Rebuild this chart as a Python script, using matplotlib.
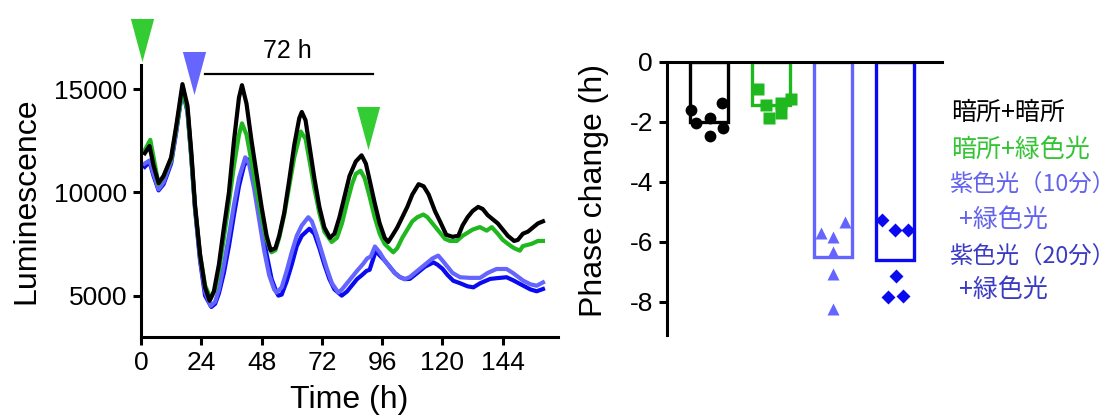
import numpy as np
import matplotlib
matplotlib.use("Agg")
import matplotlib.pyplot as plt

plt.rcParams["font.family"] = ["Liberation Sans", "DejaVu Sans"]
CJK = ["Noto Sans CJK JP", "DejaVu Sans"]

# ---- left panel: luminescence traces ----
t_black = [1.5, 3.4, 5, 7, 9, 12, 14, 16.5, 18.5, 20, 21.5, 23.5, 25.5, 27.3, 29, 31, 33, 35, 37, 39,
           40.2, 42, 44, 46, 48, 50, 51.6, 53.5, 55, 57, 59, 61, 63, 64, 65.5, 67, 69, 71, 73, 75.2,
           77, 79, 81, 83, 85.5, 87.8, 89.5, 91, 93, 95, 97, 98.4, 100, 102, 104, 106, 108, 110.5,
           112.5, 114.5, 117, 119, 121.5, 124, 126.3, 128, 130, 132, 134.2, 136, 138, 140, 142, 144,
           146, 148.5, 150, 152, 154, 156, 158, 160]
v_black = [11900, 12250, 11300, 10450, 10800, 11700, 13200, 15250, 14200, 12000, 9400, 7000, 5400,
           4750, 5200, 6500, 8300, 10000, 12500, 14600, 15200, 14300, 12500, 10900, 9300, 7900, 7200,
           7300, 7900, 9000, 10600, 12300, 13600, 13900, 13500, 12300, 10700, 9300, 8300, 7800, 8000,
           8800, 9800, 10800, 11500, 11800, 11400, 10600, 9500, 8500, 7800, 7600, 7900, 8300, 8800,
           9300, 9900, 10400, 10300, 9900, 9100, 8600, 7950, 7850, 7900, 8400, 8800, 9100, 9300, 9200,
           8900, 8700, 8500, 8200, 7900, 7650, 7700, 8000, 8100, 8300, 8500, 8600]

t_green = [1.5, 3.7, 5, 7, 9, 12, 14, 16.7, 18.5, 20, 21.5, 23.5, 25.5, 27.7, 29.5, 31, 33, 35, 37,
           39, 40.2, 42, 44, 46, 48, 50, 51.9, 53.5, 55, 57, 59, 61, 63.6, 65.5, 67, 69, 71, 73, 75.9,
           78, 80, 82, 84, 85.5, 87.4, 89, 91, 93, 95, 97, 100.4, 102, 104, 106, 108, 110, 112.4, 114,
           116, 119, 121, 123, 125.7, 128, 130.3, 132, 134.9, 137.6, 139.6, 142, 144, 146.9, 148.5,
           150.8, 152, 155.5, 158, 160]
v_green = [12050, 12550, 11700, 10400, 10800, 11600, 13100, 15050, 14000, 11800, 9300, 7000, 5500,
           4850, 5300, 6200, 7800, 9500, 11300, 12800, 13350, 12800, 11500, 10100, 8800, 7700, 7100,
           7200, 7800, 8900, 10300, 11700, 12950, 12600, 11600, 10200, 9000, 8100, 7600, 7800, 8500,
           9500, 10400, 10900, 11050, 10700, 9800, 8800, 8000, 7500, 7100, 7300, 7800, 8200, 8600,
           8800, 8930, 8800, 8500, 8050, 7750, 7650, 7650, 7900, 8070, 8200, 8320, 8150, 8320, 8000,
           7700, 7430, 7300, 7180, 7400, 7510, 7650, 7650]

t_violet10 = [1.5, 3.4, 5, 7, 9, 12, 14, 16.5, 18.5, 20, 21.5, 23.5, 25.5, 27.7, 29.5, 31, 33, 35,
              37, 39, 41.5, 43, 45, 47, 49, 51, 53, 54, 56, 58, 60, 62, 64, 66.6, 68, 70, 72, 74,
              76, 78.5, 80, 82, 84, 86, 88.5, 90, 91.5, 93.1, 95, 97, 99, 101, 103, 105, 107, 110,
              113, 116, 118.3, 120, 122, 124, 127, 131, 135, 138, 141.5, 145.5, 148, 152.2, 155,
              157.5, 160]
v_violet10 = [11400, 11550, 10900, 10150, 10500, 11500, 13000, 15100, 14000, 11800, 9300, 6800,
              5200, 4500, 4700, 5300, 6500, 7900, 9400, 10700, 11700, 11400, 10200, 8700, 7200,
              6000, 5300, 5150, 5400, 6200, 7100, 7900, 8400, 8800, 8600, 7900, 7100, 6300, 5600,
              5150, 5300, 5600, 5900, 6200, 6550, 6800, 6900, 7380, 7100, 6700, 6400, 6100, 5900,
              5800, 5900, 6200, 6500, 6800, 6940, 6700, 6400, 6100, 5890, 5860, 5860, 6100, 6290,
              6290, 6100, 5720, 5550, 5480, 5640]

t_violet20 = [1.5, 3.4, 5, 7, 9, 12, 14, 16.5, 18.5, 20, 21.5, 23.5, 25.5, 28, 29.5, 31, 33, 35, 37,
              39, 41, 42.5, 44, 46, 48, 50, 52, 54, 54.7, 56, 58, 60, 62, 64, 67, 69, 71, 73, 75,
              77, 79.9, 82, 84, 86, 88, 89.8, 91, 93.5, 95, 97, 99, 101, 103, 105, 107, 110, 113,
              116.4, 118, 120, 122, 124.3, 127, 130, 132.3, 135, 139, 142, 145.5, 148, 152.2, 155,
              157.5, 160]
v_violet20 = [11240, 11480, 10800, 10100, 10400, 11400, 12900, 15000, 13900, 11700, 9200, 6700,
              5000, 4450, 4600, 5100, 6100, 7400, 8900, 10300, 11300, 11600, 11300, 10100, 8500,
              7000, 5800, 5150, 5000, 5050, 5700, 6500, 7400, 7900, 8240, 8000, 7300, 6500, 5800,
              5300, 5000, 5200, 5500, 5800, 6000, 6200, 6250, 7180, 6950, 6700, 6400, 6100, 5900,
              5800, 5810, 6100, 6400, 6610, 6500, 6300, 6000, 5720, 5600, 5450, 5400, 5600, 5810,
              5850, 5890, 5750, 5480, 5300, 5210, 5320]

# light-pulse arrowheads (time, height) and the 72 h bar
green_marks_t = [0.5, 90.4]
green_marks_y = [17400, 13100]
violet_marks_t = [20.9]
violet_marks_y = [15770]
span_t = [25.5, 92.2]
span_y = 15745

# ---- right panel: phase change ----
groups = ["暗所+暗所", "暗所+緑色光", "紫色光（10分）\n+緑色光", "紫色光（20分）\n+緑色光"]
bar_means = [-2.0, -1.45, -6.5, -6.6]
pts_dx = [[-0.29, -0.21, 0.02, 0.02, 0.21, 0.22],
          [-0.22, -0.09, -0.04, 0.15, 0.16, 0.32],
          [-0.2, 0.0, 0.0, 0.19, 0.0, 0.0],
          [-0.21, 0.0, 0.2, 0.01, -0.12, 0.13]]
pts_y = [[-1.6, -2.02, -1.88, -2.47, -1.37, -2.19],
         [-0.9, -1.43, -1.87, -1.7, -1.37, -1.23],
         [-5.69, -5.82, -6.32, -5.32, -7.07, -8.24],
         [-5.27, -5.6, -5.6, -7.13, -7.82, -7.8]]

C_BLACK = "#000000"
C_GREEN = "#1fb81f"
C_VIOLET10 = "#6464ff"
C_VIOLET20 = "#0a0af0"
line_colors = [C_BLACK, C_GREEN, C_VIOLET10, C_VIOLET20]
text_colors = ["#000000", "#33c433", "#6262ee", "#3a3ac4"]
markers = ["o", "s", "^", "D"]
msizes = [8.5, 8.5, 8.5, 7.5]

fig = plt.figure(figsize=(11.19, 4.19), dpi=100)

# left
ax = fig.add_axes([0.126, 0.196, 0.3727, 0.649])
ax.plot(t_violet20, v_violet20, color=C_VIOLET20, lw=3)
ax.plot(t_violet10, v_violet10, color=C_VIOLET10, lw=3)
ax.plot(t_green, v_green, color=C_GREEN, lw=3)
ax.plot(t_black, v_black, color=C_BLACK, lw=3)
ax.set_xlim(0, 166)
ax.set_ylim(3000, 16180)
ax.set_xticks([0, 24, 48, 72, 96, 120, 144])
ax.set_yticks([5000, 10000, 15000])
for s in ["top", "right"]:
    ax.spines[s].set_visible(False)
for s in ["left", "bottom"]:
    ax.spines[s].set_linewidth(2.2)
ax.tick_params(width=2.2, length=6, labelsize=19, pad=4)
ax.set_xlabel("Time (h)", fontsize=23)
ax.set_ylabel("Luminescence", fontsize=23)
ax.xaxis.set_label_coords(0.5, -0.178)
ax.yaxis.set_label_coords(-0.238, 0.5)

tri = [(-0.27, 0.5), (0.27, 0.5), (0.0, -0.5)]
ax.plot(green_marks_t, green_marks_y, ls="none", marker=tri, ms=31, color="#33cc33",
        mec="none", clip_on=False, zorder=5)
ax.plot(violet_marks_t, violet_marks_y, ls="none", marker=tri, ms=31, color="#6666ff",
        mec="none", clip_on=False, zorder=5)
ax.plot(span_t, [span_y, span_y], color="black", lw=1.6, clip_on=False)
ax.text(np.mean(span_t) - 0.5, span_y + 550, "72 h", ha="center", va="bottom", fontsize=18)

# right
bx = fig.add_axes([0.596, 0.2005, 0.2458, 0.6516])
xpos = np.arange(len(groups))
bx.bar(xpos, bar_means, width=0.61, facecolor="none", edgecolor=line_colors, linewidth=2.4,
       zorder=2)
for i in range(len(groups)):
    bx.plot(xpos[i] + np.array(pts_dx[i]), pts_y[i], ls="none", marker=markers[i],
            ms=msizes[i], color=line_colors[i], mec="none", zorder=3, clip_on=False)
bx.set_xlim(-0.68, 3.75)
bx.set_ylim(-9.1, 0)
bx.set_yticks([0, -2, -4, -6, -8])
bx.set_yticklabels(["0", "-2", "-4", "-6", "-8"])
bx.set_xticks([])
bx.spines["right"].set_visible(False)
bx.spines["bottom"].set_visible(False)
for s in ["left", "top"]:
    bx.spines[s].set_linewidth(2.2)
bx.tick_params(axis="y", width=2.2, length=6, labelsize=19, pad=4)
bx.set_ylabel("Phase change (h)", fontsize=23)
bx.yaxis.set_label_coords(-0.21, 0.53)

# legend-like text (x px, y px, size)
label_lines = [("暗所+暗所", 0, 951, 113, 18), ("暗所+緑色光", 1, 951, 150, 18),
               ("紫色光（10分）", 2, 949, 185, 16.8), ("+緑色光", 2, 959, 220, 18),
               ("紫色光（20分）", 3, 949, 257, 16.8), ("+緑色光", 3, 959, 290, 18)]
for txt, ci, px, py, fs in label_lines:
    fig.text(px / 1119, 1 - py / 419, txt, color=text_colors[ci], fontsize=fs,
             family=CJK, ha="left", va="center")

fig.savefig("out.png", dpi=100)
